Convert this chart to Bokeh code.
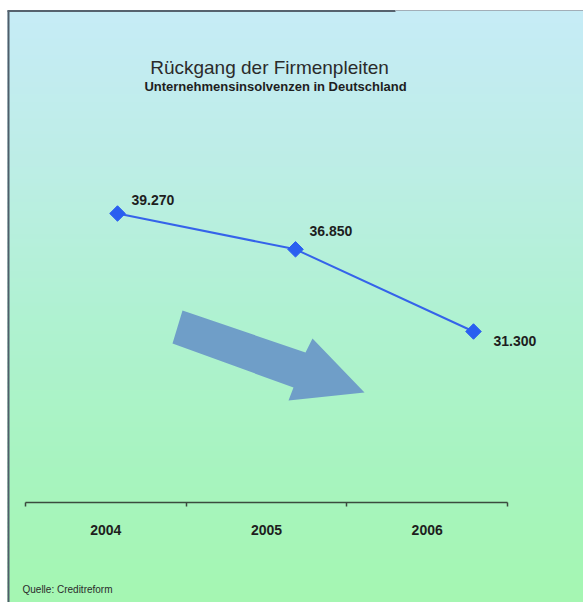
import numpy as np
from bokeh.plotting import figure
from bokeh.models import Range1d, FixedTicker, ColumnDataSource
from bokeh.core.properties import value
from bokeh.embed import file_html
from bokeh.resources import INLINE

# ---- data ----
years = [2004, 2005, 2006]
insolvencies = [39270, 36850, 31300]
year_labels = ["2004", "2005", "2006"]
title_text = "Rückgang der Firmenpleiten"
subtitle_text = "Unternehmensinsolvenzen in Deutschland"
source_text = "Quelle: Creditreform"

# ---- layout (page pixels) ----
W, H = 583, 602
FX0, FY0 = 0, 0                  # page position of the frame
FX1, FY1 = FX0 + W, FY0 + H
AX_L, AX_R = 25, 507             # category axis extent in page px
AX_Y = 501.5                     # axis line in page px
PT_X0, PT_DX = 117, 178          # x of first point, px per year
V_REF, PY_REF, PX_PER_V = 39270, 213, 0.014806

cat_w = (AX_R - AX_L) / 3.0
x_main = Range1d((FX0 - AX_L) / cat_w, (FX1 - AX_L) / cat_w)
yr_range = Range1d(years[0] + (FX0 - PT_X0) / PT_DX, years[0] + (FX1 - PT_X0) / PT_DX)
def v_at(py):
    return V_REF + (PY_REF - py) / PX_PER_V
y_main = Range1d(v_at(FY1), v_at(FY0))

p = figure(width=W, height=H, output_backend="svg", toolbar_location=None, tools="",
           min_border=0, x_range=x_main, y_range=y_main, y_axis_location=None)
p.extra_x_ranges = {"years": yr_range, "px": Range1d(FX0, FX1)}
p.extra_y_ranges = {"px": Range1d(FY1, FY0)}
p.grid.visible = False
p.outline_line_color = None
p.background_fill_color = "white"
p.border_fill_color = "white"

# ---- gradient background ----
stops_y = [10, 20, 165, 315, 465, 602]
stops_r = [198, 198, 189, 176, 168, 165]
stops_g = [236, 236, 238, 242, 244, 247]
stops_b = [246, 246, 230, 210, 192, 178]
edges = np.arange(10, 602, 4.0)
tops, bots, cols = [], [], []
for e in edges:
    c = e + 2
    r = int(np.interp(c, stops_y, stops_r)); g = int(np.interp(c, stops_y, stops_g)); b = int(np.interp(c, stops_y, stops_b))
    tops.append(e); bots.append(min(e + 5, 602)); cols.append("#%02x%02x%02x" % (r, g, b))
p.quad(left=7, right=FX1, top=tops, bottom=bots, fill_color=cols, line_color=None,
       x_range_name="px", y_range_name="px")

# ---- frame border (scanned chart edge) ----
p.line([8, 8], [10, 602], line_color="#4f5d6a", line_width=2, x_range_name="px", y_range_name="px")
p.line([7, 395], [10.5, 10.5], line_color="#56626e", line_width=2, x_range_name="px", y_range_name="px")
p.line([395, 583], [10, 10], line_color="#a2aeb8", line_width=1, x_range_name="px", y_range_name="px")

# ---- decorative arrow ----
arrow_x = [182, 305, 312, 364, 288, 293, 172]
arrow_y = [310, 352, 338, 392, 400, 387, 343]
p.patch(arrow_x, arrow_y, fill_color="#6f9ec8", line_color=None, x_range_name="px", y_range_name="px")

# ---- axis ----
ax = p.xaxis[0]
ax.fixed_location = v_at(AX_Y)
ax.bounds = (0, 3)
ax.ticker = FixedTicker(ticks=[0.5, 1.5, 2.5], minor_ticks=[0, 1, 2, 3])
ax.major_label_overrides = {0.5: year_labels[0], 1.5: year_labels[1], 2.5: year_labels[2]}
ax.axis_line_color = "#3b4a3e"
ax.axis_line_width = 1.5
ax.major_tick_line_color = None
ax.minor_tick_line_color = "#3b4a3e"
ax.minor_tick_line_width = 1.5
ax.minor_tick_in = 0
ax.minor_tick_out = 4
ax.major_label_text_font = "Liberation Sans"
ax.major_label_text_font_size = "14px"
ax.major_label_text_font_style = "bold"
ax.major_label_text_color = "#1e1e1e"
ax.major_label_standoff = 17

# ---- series ----
src = ColumnDataSource(dict(
    x=years, y=insolvencies,
    lab=[f"{v:,}".replace(",", ".") for v in insolvencies],
    dx=[14, 14, 20], dy=[-14, -18, 9],
))
p.line("x", "y", source=src, x_range_name="years", line_color="#3563ea", line_width=2)
p.scatter("x", "y", source=src, x_range_name="years", marker="square", size=11, angle=np.pi / 4,
          fill_color="#2a5ff0", line_color="#2a5ff0")
p.text("x", "y", text="lab", source=src, x_range_name="years", x_offset="dx", y_offset="dy",
       text_font=value("Liberation Sans"), text_font_size="14px", text_font_style="bold",
       text_color="#1e1e1e", text_baseline="middle", text_align="left")

# ---- titles / source ----
p.text([269], [67], text=[title_text], x_range_name="px", y_range_name="px",
       text_font=value("Liberation Sans"), text_font_size="19px", text_color="#2b2b2b",
       text_align="center", text_baseline="alphabetic")
p.text([275], [85.5], text=[subtitle_text], x_range_name="px", y_range_name="px",
       text_font=value("Liberation Sans"), text_font_size="13px", text_font_style="bold",
       text_color="#1e1e1e", text_align="center", text_baseline="alphabetic")
p.text([22], [589], text=[source_text], x_range_name="px", y_range_name="px",
       text_font=value("Liberation Sans"), text_font_size="10px", text_color="#2b2b2b",
       text_align="left", text_baseline="middle")

open("out.html", "w").write(file_html(p, INLINE))
